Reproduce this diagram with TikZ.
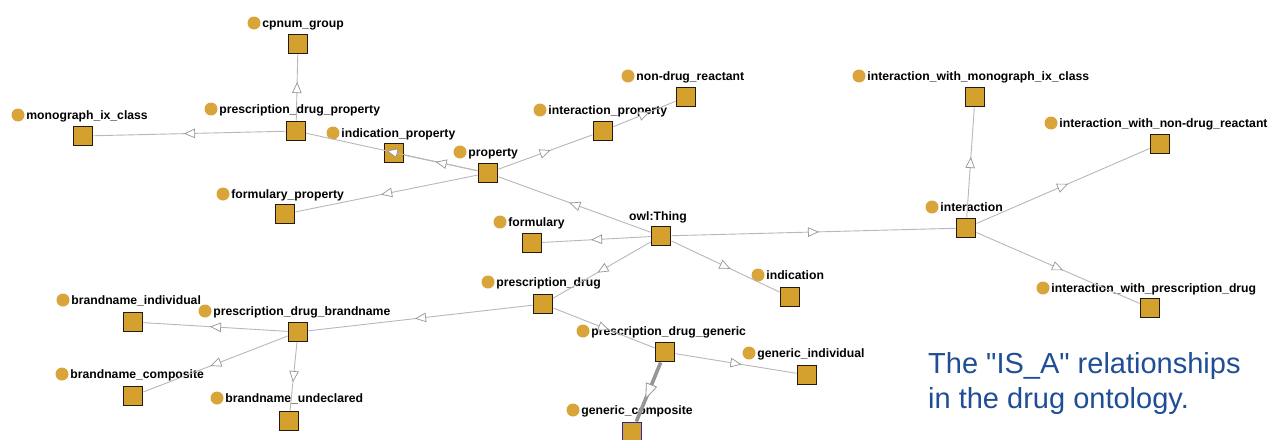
\documentclass[tikz,border=0pt]{standalone}
\usepackage{fontspec}
\setmainfont{Liberation Sans}[Ligatures=TeXOff]
\usetikzlibrary{arrows.meta,decorations.markings}

\definecolor{gold}{HTML}{D4A02E}
\definecolor{dotgold}{HTML}{D9A53A}
\definecolor{edgegray}{HTML}{B8B8B8}
\definecolor{tipgray}{HTML}{969696}
\definecolor{capblue}{HTML}{1F4E96}
\definecolor{selblue}{HTML}{2A2A9C}

\tikzset{
  cls/.style={draw=black!80!brown, line width=1.4pt, fill=gold,
    minimum size=19.5pt, inner sep=0pt},
  dot/.style={circle, fill=dotgold, minimum size=13pt, inner sep=0pt},
  lbl/.style={anchor=base west, inner sep=0pt,
    font=\fontsize{12.2}{14}\selectfont\bfseries},
  isa/.style={draw=edgegray, line width=0.9pt, postaction={decorate},
    decoration={markings, mark=at position 0.5 with
      {\arrow[xshift=5.5pt]{Triangle[length=11pt,width=9.5pt,fill=white,color=tipgray,line width=0.7pt]}}}},
  isasel/.style={draw=tipgray, line width=3.6pt, postaction={decorate},
    decoration={markings, mark=at position 0.5 with
      {\arrow[xshift=8pt]{Triangle[length=16pt,width=12pt,fill=white,color=tipgray,line width=0.8pt]}}}},
}

% class box, its dot and its name: #1 node name, #2 box centre, #3 dot centre, #4 name
\newcommand{\ontclass}[4]{%
  \node[cls] (#1) at (#2) {};
  \node[dot] (#1-dot) at (#3) {};
  \node[lbl] (#1-lbl) at ([xshift=1.5pt,yshift=-4.3pt]#1-dot.east) {#4};}

\begin{document}
\begin{tikzpicture}[x=1pt,y=-1pt]
\useasboundingbox (0,0) rectangle (1273,439);
\clip (0,0) rectangle (1273,439);
\fill[white] (0,0) rectangle (1273,439);

% root
\node[cls] (thing) at (661,236) {};
\node[lbl, anchor=base] (thing-lbl) at (658,220) {owl:Thing};

% property branch
\ontclass{prop}{488,173}{460,152}{property}
\ontclass{pdprop}{296,131}{211,109}{prescription\_drug\_property}
\ontclass{cpnum}{298,44}{254,23}{cpnum\_group}
\ontclass{mono}{83,136}{18,115}{monograph\_ix\_class}
\ontclass{indprop}{394,153}{333,133}{indication\_property}
\ontclass{formprop}{285,214}{223,194}{formulary\_property}
\ontclass{intprop}{603,131}{540,110}{interaction\_property}
\ontclass{ndr}{686,97}{628,76}{non-drug\_reactant}

% formulary and indication
\ontclass{form}{532,243}{500,222}{formulary}
\ontclass{ind}{790,297}{758,275}{indication}

% interaction branch
\ontclass{inter}{966,228}{932,207}{interaction}
\ontclass{intmono}{975,97}{859,76}{interaction\_with\_monograph\_ix\_class}
\ontclass{intndr}{1160,144}{1051,123}{interaction\_with\_non-drug\_reactant}
\ontclass{intpd}{1150,308}{1043,288}{interaction\_with\_prescription\_drug}

% prescription drug branch
\ontclass{pd}{543,304}{488,282}{prescription\_drug}
\ontclass{brand}{298,332}{205,311}{prescription\_drug\_brandname}
\ontclass{bind}{133,322}{63,300}{brandname\_individual}
\ontclass{bcomp}{133,396}{62,374}{brandname\_composite}
\ontclass{bund}{289,421}{217,398}{brandname\_undeclared}
\ontclass{gen}{665,352}{583,331}{prescription\_drug\_generic}
\ontclass{gind}{807,375}{749,353}{generic\_individual}
\ontclass{gcomp}{632,432}{573,410}{generic\_composite}
\node[cls, draw=selblue] at (gcomp) {};

% IS_A links
\draw[isa] (thing) -- (prop);
\draw[isa] (thing) -- (form);
\draw[isa] (thing) -- (pd);
\draw[isa] (thing) -- (ind);
\draw[isa] (thing) -- (inter);
\draw[isa] (prop) -- (pdprop);
\draw[isa] (prop) -- (indprop);
\draw[isa] (prop) -- (formprop);
\draw[isa] (prop) -- (intprop);
\draw[isa] (intprop) -- (ndr);
\draw[isa] (pdprop) -- (cpnum);
\draw[isa] (pdprop) -- (mono);
\draw[isa] (inter) -- (intmono);
\draw[isa] (inter) -- (intndr);
\draw[isa] (inter) -- (intpd);
\draw[isa] (pd) -- (brand);
\draw[isa] (pd) -- (gen);
\draw[isa] (brand) -- (bind);
\draw[isa] (brand) -- (bcomp);
\draw[isa] (brand) -- (bund);
\draw[isa] (gen) -- (gind);
\draw[isasel] (gen) -- (gcomp);

% caption
\node[anchor=base west, inner sep=0pt, text=capblue,
  font=\fontsize{29}{35}\selectfont] (cap1) at (928,373) {The "IS\_A" relationships};
\node[anchor=base west, inner sep=0pt, text=capblue,
  font=\fontsize{29}{35}\selectfont] (cap2) at (928,408) {in the drug ontology.};
\end{tikzpicture}
\end{document}
